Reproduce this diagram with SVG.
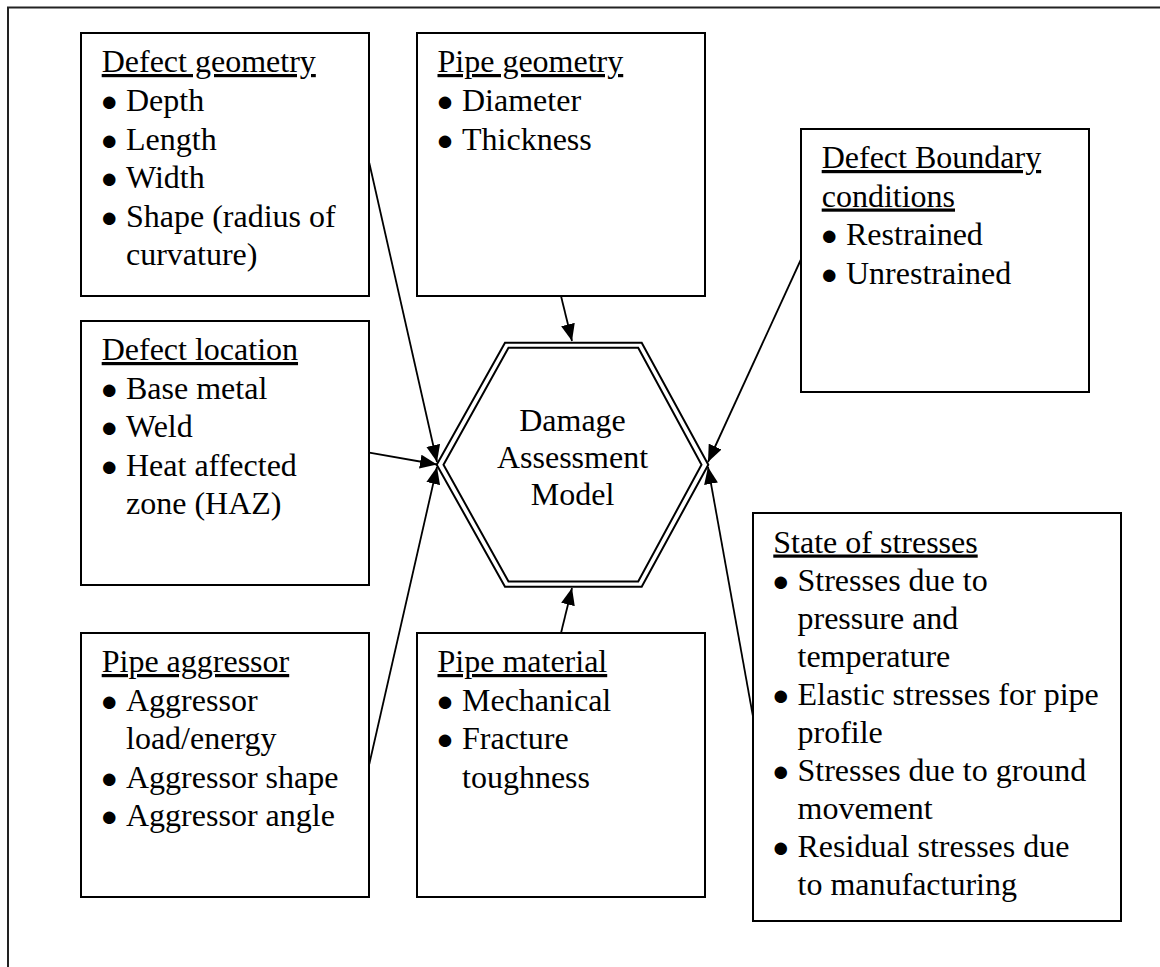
<svg xmlns="http://www.w3.org/2000/svg" width="1160" height="967" viewBox="0 0 1160 967">
<style>
text{font-family:"Liberation Serif","Times New Roman",serif;font-size:32px;fill:#000}
.t{text-decoration:underline}
.b{font-size:29px}
.box{fill:#fff;stroke:#000;stroke-width:2}
.hex{fill:none;stroke:#000;stroke-width:2}
.c{fill:none;stroke:#000;stroke-width:1.8}
</style>
<defs>
<marker id="ah" markerUnits="userSpaceOnUse" markerWidth="19" markerHeight="15" refX="17" refY="7" orient="auto">
<path d="M0,0 L17,7 L0,14 z" fill="#000"/>
</marker>
</defs>
<rect width="1160" height="967" fill="#fff"/>
<path d="M8,967 V7.5 H1160" fill="none" stroke="#222" stroke-width="2"/>

<g id="connectors">
<line class="c" x1="369.3" y1="163" x2="437" y2="462" marker-end="url(#ah)"/>
<line class="c" x1="369.3" y1="452.7" x2="437" y2="464.5" marker-end="url(#ah)"/>
<line class="c" x1="369.3" y1="764" x2="437" y2="467" marker-end="url(#ah)"/>
<line class="c" x1="561" y1="296" x2="572" y2="341" marker-end="url(#ah)"/>
<line class="c" x1="561" y1="633" x2="572" y2="588" marker-end="url(#ah)"/>
<line class="c" x1="800.7" y1="260" x2="708" y2="462" marker-end="url(#ah)"/>
<line class="c" x1="753" y1="716.7" x2="708" y2="467" marker-end="url(#ah)"/>
</g>

<g id="defect-geometry">
<rect class="box" x="81" y="33" width="288" height="263"/>
<text class="t" x="101.7" y="72">Defect geometry</text>
<text y="111"><tspan class="b" x="100.5">●</tspan><tspan x="126">Depth</tspan></text>
<text y="149.5"><tspan class="b" x="100.5">●</tspan><tspan x="126">Length</tspan></text>
<text y="188"><tspan class="b" x="100.5">●</tspan><tspan x="126">Width</tspan></text>
<text y="226.5"><tspan class="b" x="100.5">●</tspan><tspan x="126">Shape (radius of</tspan></text>
<text x="126" y="265">curvature)</text>
</g>

<g id="pipe-geometry">
<rect class="box" x="417" y="33" width="288" height="263"/>
<text class="t" x="437.5" y="72">Pipe geometry</text>
<text y="111"><tspan class="b" x="436.3">●</tspan><tspan x="462">Diameter</tspan></text>
<text y="149.5"><tspan class="b" x="436.3">●</tspan><tspan x="462">Thickness</tspan></text>
</g>

<g id="defect-boundary">
<rect class="box" x="801" y="129" width="288" height="263"/>
<text class="t" x="821.7" y="168">Defect Boundary</text>
<text class="t" x="821.7" y="206.5">conditions</text>
<text y="245"><tspan class="b" x="820.5">●</tspan><tspan x="846">Restrained</tspan></text>
<text y="283.5"><tspan class="b" x="820.5">●</tspan><tspan x="846">Unrestrained</tspan></text>
</g>

<g id="defect-location">
<rect class="box" x="81" y="321" width="288" height="264"/>
<text class="t" x="101.7" y="360">Defect location</text>
<text y="398.5"><tspan class="b" x="100.5">●</tspan><tspan x="126">Base metal</tspan></text>
<text y="437"><tspan class="b" x="100.5">●</tspan><tspan x="126">Weld</tspan></text>
<text y="475.5"><tspan class="b" x="100.5">●</tspan><tspan x="126">Heat affected</tspan></text>
<text x="126" y="514">zone (HAZ)</text>
</g>

<g id="damage-assessment-model">
<polygon class="hex" points="436.7,464.7 505,342.7 641.7,342.7 708.3,464.7 641.7,586.7 505,586.7"/>
<polygon class="hex" points="443.5,464.7 508.5,347.8 638.2,347.8 701.5,464.7 638.2,581.6 508.5,581.6"/>
<text x="572.5" y="431" text-anchor="middle">Damage</text>
<text x="572.5" y="468" text-anchor="middle">Assessment</text>
<text x="572.5" y="505" text-anchor="middle">Model</text>
</g>

<g id="state-of-stresses">
<rect class="box" x="753" y="513" width="368" height="408"/>
<text class="t" x="773.3" y="552.5">State of stresses</text>
<text y="590.5"><tspan class="b" x="772">●</tspan><tspan x="797.5">Stresses due to</tspan></text>
<text x="797.5" y="628.5">pressure and</text>
<text x="797.5" y="666.5">temperature</text>
<text y="704.5"><tspan class="b" x="772">●</tspan><tspan x="797.5">Elastic stresses for pipe</tspan></text>
<text x="797.5" y="742.5">profile</text>
<text y="780.5"><tspan class="b" x="772">●</tspan><tspan x="797.5">Stresses due to ground</tspan></text>
<text x="797.5" y="818.5">movement</text>
<text y="856.5"><tspan class="b" x="772">●</tspan><tspan x="797.5">Residual stresses due</tspan></text>
<text x="797.5" y="894.5">to manufacturing</text>
</g>

<g id="pipe-aggressor">
<rect class="box" x="81" y="633" width="288" height="264"/>
<text class="t" x="101.7" y="672">Pipe aggressor</text>
<text y="710.5"><tspan class="b" x="100.5">●</tspan><tspan x="126">Aggressor</tspan></text>
<text x="126" y="749">load/energy</text>
<text y="787.5"><tspan class="b" x="100.5">●</tspan><tspan x="126">Aggressor shape</tspan></text>
<text y="826"><tspan class="b" x="100.5">●</tspan><tspan x="126">Aggressor angle</tspan></text>
</g>

<g id="pipe-material">
<rect class="box" x="417" y="633" width="288" height="264"/>
<text class="t" x="437.5" y="672">Pipe material</text>
<text y="710.5"><tspan class="b" x="436.3">●</tspan><tspan x="462">Mechanical</tspan></text>
<text y="749"><tspan class="b" x="436.3">●</tspan><tspan x="462">Fracture</tspan></text>
<text x="462" y="787.5">toughness</text>
</g>
</svg>
